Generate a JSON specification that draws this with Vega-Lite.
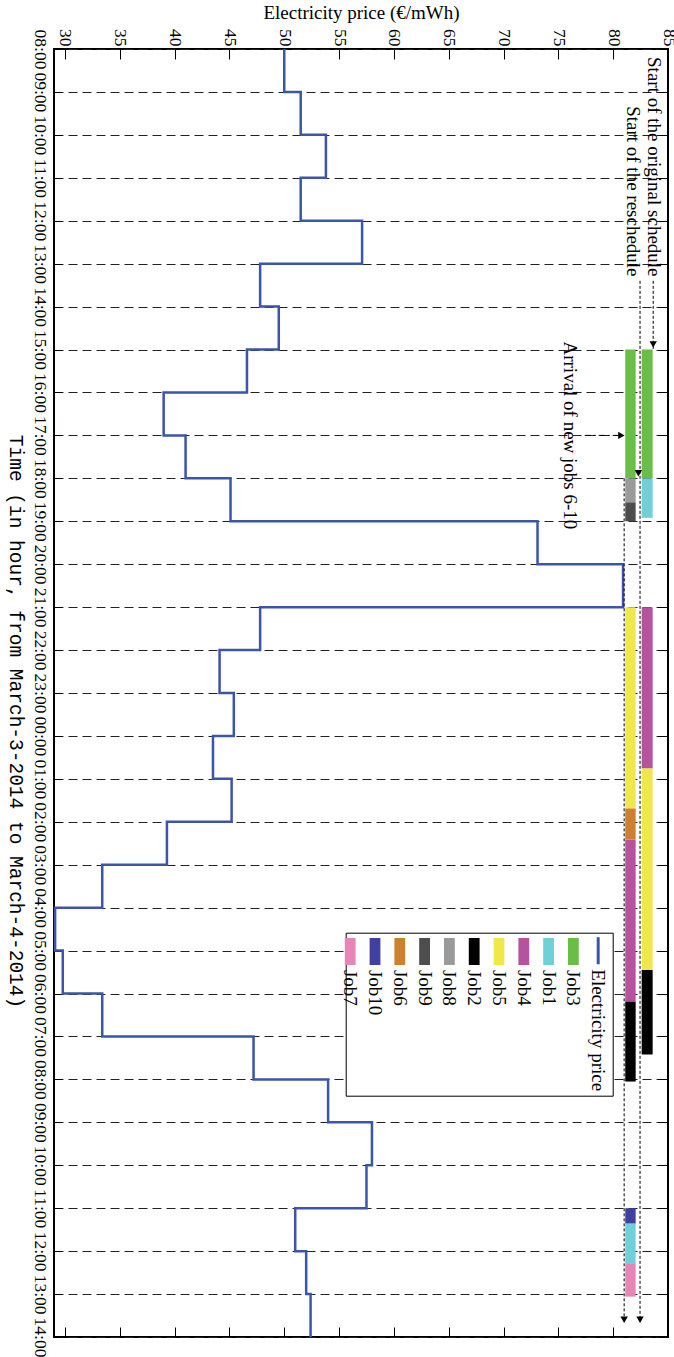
{
  "$schema": "https://vega.github.io/schema/vega-lite/v6.json",
  "width": 614,
  "height": 1288,
  "autosize": "none",
  "padding": {"left": 54, "top": 49, "right": 6, "bottom": 20},
  "background": "white",
  "config": {
    "view": {"stroke": "black", "strokeWidth": 2},
    "font": "Liberation Serif",
    "axis": {"labelFont": "Liberation Serif", "titleFont": "Liberation Serif", "labelColor": "black", "titleColor": "black", "tickColor": "black", "domain": false, "titleFontWeight": "normal", "labelFlush": false, "labelOverlap": false}
  },
  "datasets": {
    "price": [
      {"series": "Electricity price", "hour": 0, "price": 50.0}, {"series": "Electricity price", "hour": 1, "price": 51.5},
      {"series": "Electricity price", "hour": 2, "price": 53.8}, {"series": "Electricity price", "hour": 3, "price": 51.5},
      {"series": "Electricity price", "hour": 4, "price": 57.1}, {"series": "Electricity price", "hour": 5, "price": 47.8},
      {"series": "Electricity price", "hour": 6, "price": 49.5}, {"series": "Electricity price", "hour": 7, "price": 46.6},
      {"series": "Electricity price", "hour": 8, "price": 39.0}, {"series": "Electricity price", "hour": 9, "price": 41.0},
      {"series": "Electricity price", "hour": 10, "price": 45.1}, {"series": "Electricity price", "hour": 11, "price": 73.1},
      {"series": "Electricity price", "hour": 12, "price": 80.9}, {"series": "Electricity price", "hour": 13, "price": 47.8},
      {"series": "Electricity price", "hour": 14, "price": 44.1}, {"series": "Electricity price", "hour": 15, "price": 45.4},
      {"series": "Electricity price", "hour": 16, "price": 43.5}, {"series": "Electricity price", "hour": 17, "price": 45.2},
      {"series": "Electricity price", "hour": 18, "price": 39.3}, {"series": "Electricity price", "hour": 19, "price": 33.4},
      {"series": "Electricity price", "hour": 20, "price": 29.1}, {"series": "Electricity price", "hour": 21, "price": 29.8},
      {"series": "Electricity price", "hour": 22, "price": 33.4}, {"series": "Electricity price", "hour": 23, "price": 47.2},
      {"series": "Electricity price", "hour": 24, "price": 54.0}, {"series": "Electricity price", "hour": 25, "price": 58.0},
      {"series": "Electricity price", "hour": 26, "price": 57.5}, {"series": "Electricity price", "hour": 27, "price": 51.0},
      {"series": "Electricity price", "hour": 28, "price": 52.0}, {"series": "Electricity price", "hour": 29, "price": 52.4},
      {"series": "Electricity price", "hour": 30, "price": 52.4}
    ],
    "jobs": [
      {"schedule": "original", "job": "Job3", "start": 7, "end": 10},
      {"schedule": "original", "job": "Job1", "start": 10, "end": 10.92},
      {"schedule": "original", "job": "Job4", "start": 13, "end": 16.76},
      {"schedule": "original", "job": "Job5", "start": 16.76, "end": 21.45},
      {"schedule": "original", "job": "Job2", "start": 21.45, "end": 23.42},
      {"schedule": "reschedule", "job": "Job3", "start": 7, "end": 10},
      {"schedule": "reschedule", "job": "Job8", "start": 10, "end": 10.56},
      {"schedule": "reschedule", "job": "Job9", "start": 10.56, "end": 11.0},
      {"schedule": "reschedule", "job": "Job5", "start": 13, "end": 17.69},
      {"schedule": "reschedule", "job": "Job6", "start": 17.69, "end": 18.41},
      {"schedule": "reschedule", "job": "Job4", "start": 18.41, "end": 22.19},
      {"schedule": "reschedule", "job": "Job2", "start": 22.19, "end": 24.05},
      {"schedule": "reschedule", "job": "Job10", "start": 27, "end": 27.36},
      {"schedule": "reschedule", "job": "Job1", "start": 27.36, "end": 28.3},
      {"schedule": "reschedule", "job": "Job7", "start": 28.3, "end": 29.06}
    ]
  },
  "layer": [
    {
      "data": {"name": "price"},
      "mark": {"type": "line", "interpolate": "step-before", "strokeWidth": 2.5},
      "encoding": {
        "x": {"field": "price", "type": "quantitative", "scale": {"domain": [29, 85], "nice": false, "zero": false},
          "axis": {"orient": "top", "values": [30, 35, 40, 45, 50, 55, 60, 65, 70, 75, 80, 85], "title": "Electricity price (€/mWh)", "titleFontSize": 19, "titlePadding": 6,
            "labelFontSize": 17.5, "labelAngle": 90, "labelAlign": "right", "labelBaseline": "middle", "tickSize": -10, "labelPadding": 13, "grid": false}},
        "y": {"field": "hour", "type": "quantitative", "scale": {"domain": [0, 30], "reverse": true, "nice": false, "zero": false},
          "axis": {"orient": "left", "values": [0,1,2,3,4,5,6,7,8,9,10,11,12,13,14,15,16,17,18,19,20,21,22,23,24,25,26,27,28,29,30],
            "labelExpr": "(((datum.value + 8) % 24) < 10 ? '0' : '') + ((datum.value + 8) % 24) + ':00'",
            "title": "Time (in hour, from March-3-2014 to March-4-2014)", "titleFont": "Liberation Mono", "titleFontSize": 19.5, "titleAngle": 90, "titleBaseline": "top", "titlePadding": 6, "titleY": 672,
            "labelFontSize": 17.5, "labelAngle": 90, "labelAlign": "center", "labelBaseline": "top", "tickSize": -8, "labelPadding": 14,
            "grid": true, "gridDash": [9, 5], "gridColor": "#222222", "gridWidth": 1}},
        "order": {"field": "hour", "type": "quantitative"},
        "color": {"field": "series", "type": "nominal",
          "scale": {"domain": ["Job7", "Job10", "Job6", "Job9", "Job8", "Job2", "Job5", "Job4", "Job1", "Job3", "Electricity price"],
                    "range": ["#e786b6", "#3f40a0", "#cc8131", "#4d4d4d", "#9a9a9a", "#000000", "#f0e84b", "#b6529e", "#70d0da", "#6bbe45", "#3a56aa"]},
          "legend": {
            "title": null, "orient": "none", "legendX": 291.7, "legendY": 883.7, "direction": "horizontal", "columns": 11,
            "padding": 4.5, "columnPadding": 4.8, "strokeColor": "black", "fillColor": "white",
            "labelFont": "Liberation Serif", "labelFontSize": 19, "labelColor": "black", "labelLimit": 0, "symbolSize": 729,
            "symbolType": "M-0.4,-1H0.4V1H-0.4Z M0,1L0,10.3", "symbolStrokeWidth": 0, "symbolOpacity": 1,
            "encoding": {
              "symbols": {
                "x": {"value": 0}, "y": {"value": 13.5},
                "shape": {"condition": {"test": "datum.value === 'Electricity price'", "value": "M-0.11,-1H0.11V1H-0.11Z M0,1L0,10.3"}, "value": "M-0.4,-1H0.4V1H-0.4Z M0,1L0,10.3"}
              },
              "labels": {"x": {"value": 0}, "y": {"value": 32}, "angle": {"value": 90}, "align": {"value": "left"}, "baseline": {"value": "middle"}}
            }
          }}
      }
    },
    {
      "data": {"name": "jobs"},
      "transform": [{"filter": "datum.schedule === 'original'"}],
      "mark": {"type": "rect"},
      "encoding": {
        "x": {"datum": 82.6, "type": "quantitative", "axis": {"orient": "bottom", "values": [30, 35, 40, 45, 50, 55, 60, 65, 70, 75, 80, 85], "labels": false, "tickSize": -10, "title": null, "grid": false}},
        "x2": {"datum": 83.6},
        "y": {"field": "start", "type": "quantitative", "axis": {"orient": "right", "values": [0,1,2,3,4,5,6,7,8,9,10,11,12,13,14,15,16,17,18,19,20,21,22,23,24,25,26,27,28,29,30], "labels": false, "tickSize": -10, "title": null, "grid": false}},
        "y2": {"field": "end"},
        "color": {"field": "job", "type": "nominal"}
      }
    },
    {
      "data": {"name": "jobs"},
      "transform": [{"filter": "datum.schedule === 'reschedule'"}],
      "mark": {"type": "rect"},
      "encoding": {
        "x": {"datum": 81.1, "type": "quantitative", "axis": null},
        "x2": {"datum": 82.05},
        "y": {"field": "start", "type": "quantitative", "axis": null},
        "y2": {"field": "end"},
        "color": {"field": "job", "type": "nominal"}
      }
    },
    {
      "data": {"values": [{}]},
      "mark": {"type": "rule", "strokeDash": [3, 2], "strokeWidth": 1, "color": "black"},
      "encoding": {"x": {"datum": 83.65, "type": "quantitative", "axis": null}, "y": {"datum": 5.4, "type": "quantitative", "axis": null}, "y2": {"datum": 7}}
    },
    {
      "data": {"values": [{}]},
      "mark": {"type": "rule", "strokeDash": [3, 2], "strokeWidth": 1, "color": "black"},
      "encoding": {"x": {"datum": 82.45, "type": "quantitative", "axis": null}, "y": {"datum": 5.4, "type": "quantitative", "axis": null}, "y2": {"datum": 29.6}}
    },
    {
      "data": {"values": [{}]},
      "mark": {"type": "rule", "strokeDash": [3, 2], "strokeWidth": 1, "color": "black"},
      "encoding": {"x": {"datum": 81.0, "type": "quantitative", "axis": null}, "y": {"datum": 10, "type": "quantitative", "axis": null}, "y2": {"datum": 29.6}}
    },
    {
      "data": {"values": [{}]},
      "mark": {"type": "rule", "strokeDash": [6, 3, 2, 3], "strokeWidth": 1, "color": "black"},
      "encoding": {"x": {"datum": 77.4, "type": "quantitative", "axis": null}, "x2": {"datum": 80.7}, "y": {"datum": 9, "type": "quantitative", "axis": null}}
    },
    {
      "data": {"values": [{}]},
      "mark": {"type": "point", "shape": "triangle-down", "filled": true, "size": 55, "color": "black", "opacity": 1},
      "encoding": {"x": {"datum": 83.65, "type": "quantitative", "axis": null}, "y": {"datum": 6.88, "type": "quantitative", "axis": null}}
    },
    {
      "data": {"values": [{}]},
      "mark": {"type": "point", "shape": "triangle-down", "filled": true, "size": 55, "color": "black", "opacity": 1},
      "encoding": {"x": {"datum": 82.3, "type": "quantitative", "axis": null}, "y": {"datum": 9.88, "type": "quantitative", "axis": null}}
    },
    {
      "data": {"values": [{}]},
      "mark": {"type": "point", "shape": "triangle-down", "filled": true, "size": 55, "color": "black", "opacity": 1},
      "encoding": {"x": {"datum": 82.45, "type": "quantitative", "axis": null}, "y": {"datum": 29.6, "type": "quantitative", "axis": null}}
    },
    {
      "data": {"values": [{}]},
      "mark": {"type": "point", "shape": "triangle-down", "filled": true, "size": 55, "color": "black", "opacity": 1},
      "encoding": {"x": {"datum": 81.0, "type": "quantitative", "axis": null}, "y": {"datum": 29.6, "type": "quantitative", "axis": null}}
    },
    {
      "data": {"values": [{}]},
      "mark": {"type": "point", "shape": "triangle-right", "filled": true, "size": 55, "color": "black", "opacity": 1},
      "encoding": {"x": {"datum": 80.75, "type": "quantitative", "axis": null}, "y": {"datum": 9, "type": "quantitative", "axis": null}}
    },
    {
      "data": {"values": [{"note": "Start of the original schedule"}]},
      "mark": {"type": "text", "angle": 90, "align": "right", "baseline": "middle", "font": "Liberation Serif", "fontSize": 19, "color": "black"},
      "encoding": {"x": {"datum": 83.69, "type": "quantitative", "axis": null}, "y": {"datum": 5.3, "type": "quantitative", "axis": null}, "text": {"field": "note"}}
    },
    {
      "data": {"values": [{"note": "Start of the reschedule"}]},
      "mark": {"type": "text", "angle": 90, "align": "right", "baseline": "middle", "font": "Liberation Serif", "fontSize": 19, "color": "black"},
      "encoding": {"x": {"datum": 81.82, "type": "quantitative", "axis": null}, "y": {"datum": 5.3, "type": "quantitative", "axis": null}, "text": {"field": "note"}}
    },
    {
      "data": {"values": [{"note": "Arrival of new jobs 6-10"}]},
      "mark": {"type": "text", "angle": 90, "align": "center", "baseline": "middle", "font": "Liberation Serif", "fontSize": 19, "color": "black"},
      "encoding": {"x": {"datum": 76.1, "type": "quantitative", "axis": null}, "y": {"datum": 9, "type": "quantitative", "axis": null}, "text": {"field": "note"}}
    }
  ],
  "resolve": {"axis": {"x": "independent", "y": "independent"}}
}
